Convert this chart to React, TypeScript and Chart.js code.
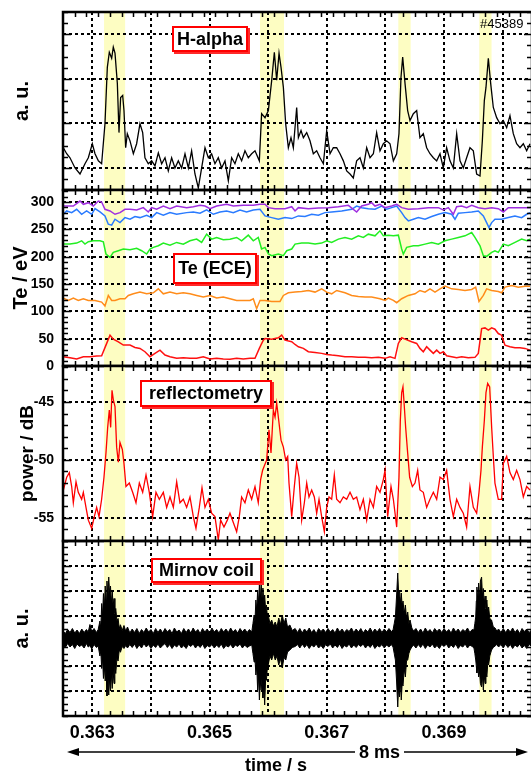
import { useEffect, useRef } from 'react';
import { Chart, registerables } from 'chart.js';

Chart.register(...registerables);

const FONT = "'Liberation Sans', Arial, Helvetica, sans-serif";

// ---------- time axis (ms) ----------
const T_MIN_MS = 362.5;
const T_MAX_MS = 370.5;
const T_GRID_MS = [363, 364, 365, 366, 367, 368, 369, 370];
const T_LABEL_MS = [363, 365, 367, 369];
const ELM_START_MS = [363.2, 365.86, 368.22, 369.6];
const ELM_END_MS = [363.56, 366.27, 368.43, 369.81];

// ---------- H-alpha [t ms, a.u.] ----------
const HALPHA: number[][] = [
  [362.506,1.90],[362.563,1.63],[362.619,1.45],[362.705,0.99],[362.790,0.72],[362.875,1.18],[362.932,1.45],[363.000,2.08],[363.046,1.63],[363.103,1.31],[363.159,1.18],[363.216,2.98],[363.256,5.51],[363.290,6.19],[363.330,5.92],[363.358,6.42],[363.387,6.15],[363.427,4.79],[363.455,2.58],[363.483,4.16],[363.518,4.25],[363.540,3.57],[363.569,1.90],[363.597,2.53],[363.643,2.21],[363.700,1.63],[363.756,2.08],[363.813,2.98],[363.859,2.58],[363.898,1.45],[363.955,1.18],[364.012,1.31],[364.069,1.08],[364.126,1.67],[364.183,1.18],[364.240,1.45],[364.296,0.86],[364.353,1.45],[364.410,0.99],[364.467,1.31],[364.524,0.99],[364.581,1.63],[364.638,0.99],[364.694,1.76],[364.751,0.72],[364.808,0.09],[364.865,0.99],[364.922,1.90],[364.979,1.45],[365.035,1.63],[365.092,1.18],[365.149,1.45],[365.206,0.99],[365.263,1.31],[365.320,0.41],[365.377,1.45],[365.433,1.18],[365.490,1.63],[365.547,1.31],[365.604,1.76],[365.661,1.45],[365.718,1.63],[365.775,1.76],[365.849,1.31],[365.888,3.43],
  [365.946,3.25],[366.003,3.57],[366.060,4.93],[366.105,6.19],[366.145,4.93],[366.185,6.15],[366.219,5.51],[366.259,4.61],[366.298,2.98],[366.344,1.90],[366.389,2.35],[366.429,1.90],[366.486,3.71],[366.515,2.35],[366.560,2.67],[366.600,2.35],[366.657,2.58],[366.713,2.21],[366.770,1.63],[366.827,1.76],[366.884,1.45],[366.941,1.18],[366.998,2.67],[367.055,1.63],[367.111,1.90],[367.168,1.90],[367.225,1.63],[367.282,1.31],[367.339,0.86],[367.396,0.72],[367.452,0.54],[367.509,1.31],[367.566,1.45],[367.623,0.99],[367.680,1.90],[367.737,1.45],[367.794,1.63],[367.850,2.58],[367.907,1.76],[367.964,2.08],[368.021,2.21],[368.078,2.08],[368.135,1.31],[368.192,1.63],[368.231,2.53],[368.265,5.06],[368.294,5.97],[368.334,4.79],[368.379,3.57],[368.419,3.12],[368.476,3.43],[368.533,3.57],[368.589,2.35],[368.646,2.53],[368.703,1.90],[368.760,1.63],[368.817,1.45],[368.874,1.31],[368.931,1.63],[368.987,0.99],[369.044,1.90],[369.101,1.31],[369.158,0.99],[369.215,2.53],[369.272,1.31],[369.328,0.99],[369.385,1.45],[369.442,1.90],[369.499,1.76],[369.556,0.72],[369.613,0.63],[369.653,2.21],[369.687,4.02],[369.715,4.61],[369.755,5.92],[369.795,4.79],[369.840,3.71],[369.897,3.25],[369.954,2.98],[370.011,3.12],[370.068,2.80],[370.124,3.34],[370.181,2.53],[370.238,2.08],[370.295,1.90],[370.352,2.08],[370.409,1.76],[370.466,2.08],
];

// ---------- Te (ECE) channels [t ms, eV] ----------
const TE_PURPLE: number[][] = [
  [362.506,292.7],[362.676,292.7],[362.790,301.8],[362.847,295.8],[362.932,298.8],[363.017,292.7],[363.103,301.8],[363.159,300.0],[363.216,286.7],[363.302,283.7],[363.387,277.6],[363.472,280.6],[363.557,286.7],[363.643,286.7],[363.756,285.5],[363.870,289.7],[363.955,281.8],[364.012,289.7],[364.097,286.7],[364.211,292.7],[364.325,287.9],[364.439,292.7],[364.609,289.7],[364.723,291.5],[364.837,294.0],[364.922,292.7],[365.007,287.9],[365.121,292.7],[365.291,295.8],[365.405,292.7],[365.576,294.0],[365.746,294.0],[365.860,295.8],
  [365.946,295.8],[366.003,289.7],[366.117,287.9],[366.287,287.9],[366.401,291.5],[366.458,283.7],[366.515,289.7],[366.685,287.9],[366.856,289.1],[367.026,289.7],[367.197,291.5],[367.367,294.0],[367.509,281.8],[367.595,292.7],[367.708,295.8],[367.765,298.8],[367.822,292.7],[367.907,295.8],[367.993,289.7],[368.106,292.7],[368.192,295.8],[368.277,289.7],[368.391,286.7],[368.561,287.9],[368.732,289.7],[368.902,289.7],[368.987,285.5],[369.073,289.7],[369.158,277.6],[369.215,291.5],[369.300,292.7],[369.385,289.7],[369.471,294.0],[369.584,289.7],[369.698,287.9],[369.812,289.7],[369.925,287.9],[370.011,281.8],[370.096,289.7],[370.266,289.7],[370.466,289.7],
];
const TE_BLUE: number[][] = [
  [362.506,277.6],[362.563,283.7],[362.648,280.6],[362.733,286.7],[362.818,277.6],[362.903,283.7],[362.989,277.6],[363.046,287.9],[363.131,281.8],[363.216,274.6],[363.273,259.4],[363.330,257.6],[363.387,268.5],[363.472,262.4],[363.557,271.5],[363.643,268.5],[363.728,273.4],[363.813,271.5],[363.927,275.8],[364.012,271.5],[364.097,280.6],[364.211,275.8],[364.325,280.6],[364.439,277.6],[364.609,280.6],[364.723,281.8],[364.837,279.4],[364.950,285.5],[365.064,277.6],[365.178,281.8],[365.291,283.7],[365.405,280.6],[365.519,285.5],[365.632,281.8],[365.746,285.5],[365.860,286.7],
  [365.946,274.6],[366.060,271.5],[366.173,268.5],[366.287,271.5],[366.401,269.7],[366.515,274.6],[366.628,273.4],[366.742,277.6],[366.856,275.8],[366.969,280.6],[367.083,281.8],[367.254,283.7],[367.424,286.7],[367.509,292.7],[367.595,289.7],[367.708,287.9],[367.822,286.7],[367.936,292.7],[368.021,286.7],[368.106,289.7],[368.192,292.7],[368.277,280.6],[368.334,271.5],[368.391,265.5],[368.476,268.5],[368.561,271.5],[368.675,268.5],[368.789,273.4],[368.902,277.6],[369.016,280.6],[369.130,277.6],[369.186,268.5],[369.243,279.4],[369.357,280.6],[369.471,281.8],[369.584,283.7],[369.670,274.6],[369.726,262.4],[369.766,253.3],[369.812,262.4],[369.868,268.5],[369.982,268.5],[370.096,271.5],[370.210,274.6],[370.323,271.5],[370.409,277.6],[370.466,280.6],
];
const TE_GREEN: number[][] = [
  [362.506,223.0],[362.619,223.0],[362.733,224.9],[362.818,229.1],[362.875,223.0],[362.932,227.3],[363.017,229.1],[363.131,229.1],[363.188,227.3],[363.233,204.9],[363.302,198.8],[363.358,207.9],[363.444,210.9],[363.529,214.0],[363.643,212.8],[363.756,215.2],[363.842,210.9],[363.927,204.9],[363.984,214.0],[364.041,217.0],[364.126,220.0],[364.211,224.9],[364.325,221.2],[364.439,226.1],[364.552,223.0],[364.666,229.1],[364.780,232.1],[364.865,226.1],[364.950,241.2],[365.035,232.1],[365.121,235.2],[365.234,230.9],[365.348,232.1],[365.462,235.2],[365.547,229.1],[365.661,239.4],[365.746,229.1],[365.831,235.2],[365.888,214.0],
  [365.946,217.0],[366.003,204.9],[366.060,201.8],[366.173,204.9],[366.259,201.8],[366.316,210.9],[366.401,214.0],[366.458,223.0],[366.571,224.9],[366.685,224.9],[366.799,223.0],[366.912,224.9],[366.998,229.1],[367.083,226.1],[367.197,232.1],[367.310,235.2],[367.424,232.1],[367.538,238.2],[367.623,235.2],[367.708,241.2],[367.822,238.2],[367.907,247.3],[367.964,238.2],[368.049,239.4],[368.135,238.2],[368.220,239.4],[368.277,214.0],[368.305,204.9],[368.362,217.0],[368.476,220.0],[368.561,220.0],[368.675,223.0],[368.789,226.1],[368.902,223.0],[369.016,229.1],[369.130,232.1],[369.243,235.2],[369.357,238.2],[369.471,244.3],[369.527,235.2],[369.613,220.0],[369.670,201.8],[369.726,200.6],[369.812,207.9],[369.868,210.9],[369.925,207.9],[370.011,223.0],[370.096,220.0],[370.210,226.1],[370.323,232.1],[370.409,229.1],[370.466,232.1],
];
const TE_ORANGE: number[][] = [
  [362.506,124.3],[362.591,120.0],[362.676,124.3],[362.761,120.0],[362.847,123.1],[362.932,120.0],[363.046,120.0],[363.159,117.0],[363.216,109.7],[363.273,129.1],[363.330,120.0],[363.387,120.0],[363.472,123.1],[363.557,123.1],[363.614,129.1],[363.700,132.1],[363.813,135.2],[363.927,132.1],[364.041,133.9],[364.126,141.2],[364.211,132.1],[364.325,135.2],[364.439,132.1],[364.552,133.9],[364.666,132.1],[364.780,129.1],[364.893,126.1],[365.007,129.1],[365.121,124.3],[365.234,126.1],[365.348,123.1],[365.462,120.0],[365.576,120.0],[365.689,120.0],[365.746,123.1],[365.803,104.9],[365.860,120.0],
  [365.946,120.0],[366.060,118.2],[366.202,118.2],[366.259,129.1],[366.344,133.9],[366.458,135.2],[366.571,136.4],[366.685,138.2],[366.799,135.2],[366.912,141.2],[366.998,135.2],[367.083,132.1],[367.168,138.2],[367.310,133.9],[367.424,129.1],[367.538,127.3],[367.652,126.1],[367.765,126.1],[367.907,123.1],[367.993,120.0],[368.049,124.3],[368.135,120.0],[368.192,115.8],[368.277,123.1],[368.391,129.1],[368.504,132.1],[368.589,138.2],[368.675,135.2],[368.760,141.2],[368.845,135.2],[368.931,141.2],[369.016,146.1],[369.130,141.2],[369.243,140.0],[369.357,138.2],[369.471,140.0],[369.539,144.3],[369.596,118.2],[369.670,129.1],[369.726,141.2],[369.812,138.2],[369.925,136.4],[369.982,133.9],[370.039,144.3],[370.153,147.3],[370.266,144.3],[370.380,146.1],[370.466,146.1],
];
const TE_RED: number[][] = [
  [362.506,17.0],[362.619,15.2],[362.733,12.8],[362.847,17.0],[362.960,17.0],[363.074,18.2],[363.159,18.8],[363.233,38.2],[363.302,56.4],[363.358,49.1],[363.444,44.3],[363.529,38.2],[363.643,38.2],[363.728,34.0],[363.813,32.2],[363.898,26.1],[363.984,17.0],[364.069,23.1],[364.154,29.1],[364.240,20.0],[364.325,17.0],[364.439,14.0],[364.552,15.2],[364.666,14.0],[364.780,14.0],[364.893,17.0],[365.007,12.8],[365.121,14.0],[365.234,12.8],[365.348,12.2],[365.462,14.0],[365.576,12.8],[365.689,14.0],[365.775,14.0],[365.849,32.2],[365.917,47.3],
  [365.946,50.3],[366.060,49.1],[366.173,51.6],[366.230,56.4],[366.287,47.3],[366.401,44.3],[366.458,39.4],[366.515,35.2],[366.600,32.2],[366.685,26.1],[366.799,24.9],[366.912,23.1],[366.998,21.2],[367.083,20.0],[367.197,18.8],[367.310,17.0],[367.424,17.0],[367.538,15.8],[367.652,15.8],[367.765,15.2],[367.879,15.8],[367.993,14.0],[368.078,17.0],[368.163,14.0],[368.220,41.3],[368.277,51.6],[368.334,49.1],[368.447,44.3],[368.533,41.3],[368.589,32.2],[368.646,26.1],[368.703,35.2],[368.760,29.1],[368.817,23.1],[368.874,29.1],[368.931,23.1],[368.987,26.1],[369.044,18.8],[369.130,17.0],[369.215,15.2],[369.300,17.0],[369.414,15.2],[369.527,15.8],[369.584,23.1],[369.641,68.5],[369.698,69.7],[369.755,65.5],[369.812,69.7],[369.868,67.3],[369.925,59.4],[369.982,56.4],[370.039,38.2],[370.124,35.2],[370.210,33.4],[370.295,33.4],[370.380,32.2],[370.466,29.1],
];

// ---------- reflectometry [t ms, dB] ----------
const REFL: number[][] = [
  [362.506,-52.6],[362.563,-51.5],[362.608,-51.1],[362.648,-52.3],[362.676,-53.7],[362.722,-51.9],[362.761,-52.8],[362.818,-53.4],[362.847,-52.8],[362.892,-54.1],[362.932,-55.2],[362.989,-55.9],[363.034,-54.9],[363.074,-54.1],[363.114,-54.9],[363.159,-53.4],[363.199,-51.5],[363.233,-49.4],[363.262,-47.2],[363.290,-45.7],[363.313,-47.2],[363.336,-44.0],[363.358,-44.8],[363.387,-45.4],[363.415,-48.9],[363.444,-50.2],[363.472,-48.5],[363.512,-49.1],[363.540,-50.3],[363.574,-52.3],[363.631,-52.0],[363.688,-52.8],[363.745,-53.7],[363.802,-52.0],[363.859,-52.8],[363.916,-51.3],[363.972,-52.8],[364.029,-54.9],[364.086,-52.8],[364.143,-53.4],[364.211,-52.8],[364.268,-54.1],[364.325,-53.2],[364.382,-54.1],[364.439,-51.9],[364.495,-53.7],[364.552,-53.4],[364.609,-54.1],[364.666,-53.2],[364.723,-54.9],[364.768,-55.9],[364.825,-54.1],[364.871,-52.4],[364.922,-54.1],[364.979,-53.4],[365.035,-54.6],[365.092,-54.9],[365.149,-56.9],[365.189,-55.2],[365.246,-55.8],[365.303,-55.2],[365.348,-54.6],[365.405,-55.4],[365.462,-56.2],[365.507,-54.9],[365.547,-53.2],[365.604,-53.7],[365.661,-52.6],[365.718,-53.4],[365.775,-52.3],[365.831,-53.7],[365.871,-51.7],[365.905,-50.9],
  [365.974,-50.0],[366.014,-47.4],[366.048,-49.4],[366.088,-45.7],[366.117,-46.3],[366.145,-45.1],[366.173,-46.3],[366.219,-48.3],[366.259,-48.9],[366.298,-50.0],[366.333,-49.7],[366.355,-52.0],[366.401,-54.9],[366.446,-52.3],[366.486,-50.3],[366.526,-51.5],[366.571,-55.2],[366.617,-53.7],[366.657,-52.0],[366.696,-53.2],[366.742,-52.6],[366.787,-53.2],[366.827,-54.6],[366.867,-53.4],[366.912,-54.9],[366.958,-56.2],[366.998,-54.1],[367.038,-53.2],[367.083,-53.4],[367.128,-51.3],[367.168,-53.4],[367.225,-53.7],[367.282,-53.2],[367.339,-53.4],[367.396,-52.8],[367.452,-53.4],[367.509,-53.2],[367.566,-54.3],[367.623,-53.4],[367.680,-55.2],[367.737,-53.4],[367.794,-54.1],[367.850,-52.3],[367.907,-52.8],[367.964,-51.7],[367.993,-50.9],[368.038,-54.9],[368.095,-52.3],[368.135,-53.4],[368.192,-55.8],[368.231,-51.5],[368.254,-46.6],[368.277,-44.2],[368.299,-43.7],[368.322,-45.4],[368.345,-47.2],[368.379,-49.4],[368.413,-51.5],[368.459,-52.3],[368.504,-52.0],[368.550,-50.9],[368.589,-52.6],[368.646,-52.8],[368.703,-54.1],[368.760,-53.4],[368.817,-52.8],[368.874,-53.4],[368.931,-51.5],[368.987,-51.7],[369.044,-50.9],[369.101,-53.4],[369.158,-54.9],[369.215,-53.4],[369.272,-54.1],[369.328,-54.6],[369.385,-55.8],[369.442,-52.3],[369.499,-54.1],[369.556,-54.6],[369.596,-52.8],[369.630,-50.9],[369.653,-48.9],[369.687,-46.6],[369.715,-44.2],[369.744,-43.4],[369.778,-43.7],[369.812,-47.2],[369.840,-49.7],[369.868,-52.0],[369.925,-53.4],[369.982,-53.4],[370.011,-50.3],[370.068,-49.7],[370.124,-51.1],[370.181,-51.7],[370.238,-50.9],[370.295,-51.7],[370.352,-53.2],[370.409,-52.3],[370.466,-52.6],
];

// ---------- Mirnov coil envelope [t ms, upper a.u., lower a.u.] ----------
const MIRNOV: number[][] = [
  [362.50,0.40,-0.16],[362.54,0.30,-0.26],[362.58,0.46,-0.10],[362.62,0.34,-0.24],[362.66,0.50,-0.14],[362.70,0.32,-0.30],[362.74,0.44,-0.12],[362.78,0.30,-0.22],[362.82,0.48,-0.16],[362.86,0.34,-0.28],[362.90,0.46,-0.10],[362.93,0.36,-0.24],[362.96,0.66,-0.18],[362.99,0.38,-0.32],[363.03,0.50,-0.14],[363.07,0.34,-0.26],[363.10,0.46,-0.20],
  [363.13,0.80,-0.60],[363.145,0.50,-0.40],[363.16,1.50,-1.10],[363.175,1.00,-0.70],[363.19,1.90,-1.50],[363.205,1.30,-1.00],[363.22,2.20,-1.60],[363.235,1.60,-1.10],[363.25,2.40,-2.20],[363.265,1.70,-1.40],[363.28,2.56,-2.16],[363.295,1.90,-1.50],[363.31,2.20,-2.00],[363.325,1.50,-1.30],[363.34,2.00,-1.90],[363.355,1.40,-1.20],[363.37,1.70,-1.70],[363.385,1.10,-1.00],[363.40,1.30,-1.30],[363.42,0.80,-0.70],[363.44,0.90,-0.80],[363.46,0.50,-0.35],[363.48,0.65,-0.45],[363.51,0.42,-0.22],[363.54,0.62,-0.30],[363.57,0.40,-0.18],[363.60,0.56,-0.28],
  [363.64,0.32,-0.14],[363.68,0.48,-0.26],[363.72,0.34,-0.12],[363.76,0.50,-0.30],[363.80,0.30,-0.16],[363.84,0.46,-0.28],[363.88,0.34,-0.10],[363.92,0.52,-0.24],[363.96,0.36,-0.14],[364.00,0.46,-0.30],[364.04,0.30,-0.16],[364.08,0.50,-0.26],[364.12,0.34,-0.12],[364.16,0.48,-0.28],[364.20,0.32,-0.18],[364.24,0.50,-0.10],[364.28,0.36,-0.26],[364.32,0.46,-0.14],[364.36,0.30,-0.30],[364.40,0.52,-0.16],[364.44,0.36,-0.24],[364.48,0.44,-0.12],[364.52,0.30,-0.28],[364.56,0.50,-0.18],[364.60,0.34,-0.30],[364.64,0.48,-0.14],[364.68,0.32,-0.22],[364.72,0.52,-0.12],[364.76,0.36,-0.28],[364.80,0.46,-0.16],[364.84,0.30,-0.26],[364.88,0.50,-0.12],[364.92,0.36,-0.30],[364.96,0.48,-0.18],[365.00,0.32,-0.24],[365.04,0.52,-0.14],[365.08,0.36,-0.28],[365.12,0.46,-0.16],[365.16,0.32,-0.26],[365.20,0.50,-0.12],[365.24,0.36,-0.30],[365.28,0.48,-0.18],[365.32,0.34,-0.24],[365.36,0.52,-0.14],[365.40,0.36,-0.28],[365.44,0.46,-0.16],[365.48,0.32,-0.22],[365.52,0.50,-0.12],[365.56,0.36,-0.28],[365.60,0.48,-0.16],[365.64,0.34,-0.26],[365.68,0.46,-0.20],
  [365.72,0.36,-0.16],[365.74,0.70,-0.50],[365.76,1.04,-0.84],[365.775,0.80,-0.70],[365.79,1.64,-1.36],[365.805,1.20,-1.00],[365.82,2.04,-1.96],[365.835,1.50,-1.40],[365.85,2.24,-2.36],[365.865,1.60,-1.60],[365.88,2.32,-1.96],[365.895,1.70,-1.50],[365.91,2.12,-2.28],[365.925,1.50,-1.70],[365.94,1.84,-2.56],[365.955,1.30,-1.60],[365.97,1.44,-1.56],[365.985,1.00,-1.10],[366.00,1.04,-0.96],[366.03,0.70,-0.60],[366.06,0.84,-0.76],[366.09,0.60,-0.50],[366.12,0.76,-0.76],[366.15,0.56,-0.60],[366.18,0.92,-0.96],[366.21,0.66,-0.70],[366.24,1.04,-1.08],[366.27,0.70,-0.66],[366.30,0.92,-0.76],[366.33,0.56,-0.44],[366.37,0.64,-0.36],[366.41,0.42,-0.26],[366.46,0.50,-0.22],
  [366.50,0.34,-0.14],[366.54,0.50,-0.28],[366.58,0.32,-0.12],[366.62,0.48,-0.26],[366.66,0.36,-0.14],[366.70,0.52,-0.30],[366.74,0.34,-0.16],[366.78,0.46,-0.24],[366.82,0.30,-0.12],[366.86,0.50,-0.28],[366.90,0.38,-0.18],[366.94,0.48,-0.30],[366.98,0.34,-0.14],[367.02,0.50,-0.22],[367.06,0.36,-0.12],[367.10,0.46,-0.28],[367.14,0.32,-0.16],[367.18,0.52,-0.26],[367.22,0.36,-0.12],[367.26,0.48,-0.30],[367.30,0.34,-0.18],[367.34,0.46,-0.24],[367.38,0.38,-0.12],[367.42,0.52,-0.28],[367.46,0.34,-0.16],[367.50,0.48,-0.26],[367.54,0.36,-0.14],[367.58,0.50,-0.22],[367.62,0.32,-0.12],[367.66,0.46,-0.28],[367.70,0.36,-0.16],[367.74,0.52,-0.26],[367.78,0.34,-0.12],[367.82,0.48,-0.30],[367.86,0.36,-0.18],[367.90,0.50,-0.24],[367.94,0.34,-0.14],[367.98,0.48,-0.28],[368.02,0.36,-0.16],[368.06,0.50,-0.24],[368.10,0.38,-0.14],
  [368.13,0.44,-0.24],[368.15,0.70,-0.50],[368.17,0.96,-0.76],[368.19,1.80,-1.60],[368.21,2.72,-2.64],[368.225,1.90,-1.80],[368.24,2.04,-2.24],[368.255,1.50,-1.60],[368.27,1.92,-2.36],[368.285,1.40,-1.70],[368.30,1.60,-1.80],[368.32,1.10,-1.10],[368.34,1.44,-1.44],[368.36,0.90,-0.80],[368.38,1.16,-0.76],[368.40,0.70,-0.50],[368.42,0.84,-0.36],[368.45,0.52,-0.24],[368.48,0.40,-0.16],
  [368.52,0.50,-0.28],[368.56,0.34,-0.14],[368.60,0.48,-0.26],[368.64,0.32,-0.12],[368.68,0.52,-0.30],[368.72,0.36,-0.16],[368.76,0.46,-0.24],[368.80,0.32,-0.12],[368.84,0.50,-0.28],[368.88,0.38,-0.18],[368.92,0.48,-0.30],[368.96,0.34,-0.14],[369.00,0.50,-0.22],[369.04,0.36,-0.12],[369.08,0.46,-0.28],[369.12,0.32,-0.16],[369.16,0.52,-0.26],[369.20,0.36,-0.12],[369.24,0.48,-0.30],[369.28,0.34,-0.18],[369.32,0.46,-0.24],[369.36,0.38,-0.12],[369.40,0.52,-0.28],[369.44,0.34,-0.16],[369.48,0.46,-0.22],
  [369.51,0.44,-0.28],[369.525,0.70,-0.50],[369.54,0.96,-0.76],[369.55,1.60,-1.00],[369.56,2.16,-1.28],[369.575,1.60,-1.00],[369.59,2.32,-1.44],[369.605,1.70,-1.20],[369.62,2.40,-1.70],[369.64,2.56,-1.84],[369.655,1.80,-1.40],[369.67,2.10,-1.96],[369.685,1.50,-1.40],[369.70,1.80,-1.70],[369.715,1.30,-1.20],[369.73,1.64,-1.44],[369.745,1.10,-0.90],[369.76,1.36,-0.96],[369.78,0.90,-0.60],[369.81,0.84,-0.36],[369.84,0.56,-0.26],[369.87,0.52,-0.20],[369.90,0.40,-0.14],[369.93,0.48,-0.24],
  [369.97,0.34,-0.14],[370.01,0.50,-0.28],[370.05,0.34,-0.12],[370.09,0.48,-0.26],[370.13,0.36,-0.14],[370.17,0.52,-0.30],[370.21,0.34,-0.16],[370.25,0.46,-0.24],[370.29,0.30,-0.12],[370.33,0.50,-0.28],[370.37,0.38,-0.18],[370.41,0.48,-0.30],[370.45,0.34,-0.14],[370.50,0.46,-0.22],
];

// ---------- layout / style constants ----------
const PAGE_W = 531;
const PAGE_H = 776;
const CANVAS_W = 533;
const AXIS_W = 63;
const X_AXIS_H = 60;
const ARROW_Y = 752;
const BAND_COLOR = '#fdfdc2';

const toXY = (rows: number[][], col = 1) => rows.map((r) => ({ x: r[0] / 1000, y: r[col] }));

type Panel = {
  key: string;
  top: number;
  bottom: number;
  yMin: number;
  yMax: number;
  yGrid: number[];
  yMinor: number;
  showYLabels: boolean;
  title: string;
  titleSize: number;
  titlePad: number;
  isBottom: boolean;
  datasets: any[];
};

const line = (data: any[], color: string, width: number, extra: any = {}) => ({
  data,
  borderColor: color,
  borderWidth: width,
  pointRadius: 0,
  tension: 0,
  fill: false,
  ...extra,
});

const PANELS: Panel[] = [
  {
    key: 'ha', top: 12, bottom: 190, yMin: 0, yMax: 8, yGrid: [1, 3, 5, 7], yMinor: 0.5,
    showYLabels: false, title: 'a. u.', titleSize: 20, titlePad: 12, isBottom: false,
    datasets: [line(toXY(HALPHA), '#000000', 1.3)],
  },
  {
    key: 'te', top: 190, bottom: 366, yMin: 0, yMax: 322, yGrid: [0, 50, 100, 150, 200, 250, 300], yMinor: 10,
    showYLabels: true, title: 'Te / eV', titleSize: 20, titlePad: 11, isBottom: false,
    datasets: [
      line(toXY(TE_PURPLE), '#a030e0', 1.5),
      line(toXY(TE_BLUE), '#2a7bff', 1.5),
      line(toXY(TE_GREEN), '#22ee22', 1.5),
      line(toXY(TE_ORANGE), '#ff8c1a', 1.5),
      line(toXY(TE_RED), '#ff1010', 1.5),
    ],
  },
  {
    key: 'refl', top: 366, bottom: 541, yMin: -57, yMax: -41.9, yGrid: [-55, -50, -45], yMinor: 1,
    showYLabels: true, title: 'power / dB', titleSize: 19, titlePad: 18, isBottom: false,
    datasets: [line(toXY(REFL), '#ff0000', 1.3)],
  },
  {
    key: 'mirnov', top: 541, bottom: 716, yMin: -3, yMax: 4, yGrid: [-2, -1, 0, 1, 2, 3], yMinor: 0.25,
    showYLabels: false, title: 'a. u.', titleSize: 20, titlePad: 12, isBottom: true,
    datasets: [
      line(toXY(MIRNOV, 1), '#000000', 1),
      line(toXY(MIRNOV, 2), '#000000', 1, { fill: '-1', backgroundColor: '#000000' }),
    ],
  },
];

const bandsPlugin = {
  id: 'elmBands',
  beforeDraw(chart: any) {
    const { ctx, chartArea: a, scales } = chart;
    const x = scales.x;
    ctx.save();
    ctx.fillStyle = BAND_COLOR;
    ELM_START_MS.forEach((s, i) => {
      const x0 = x.getPixelForValue(s / 1000);
      const x1 = x.getPixelForValue(ELM_END_MS[i] / 1000);
      ctx.fillRect(x0, a.top, x1 - x0, a.bottom - a.top);
    });
    ctx.restore();
  },
};

const makeFramePlugin = (p: Panel) => ({
  id: 'frame_' + p.key,
  afterDraw(chart: any) {
    const { ctx, chartArea: a, scales } = chart;
    const x = scales.x;
    const y = scales.y;
    ctx.save();
    ctx.strokeStyle = '#000';
    ctx.lineWidth = 1.5;
    ctx.beginPath();
    const nX = Math.round((T_MAX_MS - T_MIN_MS) / 0.2);
    for (let k = 1; k < nX; k++) {
      const px = Math.round(x.getPixelForValue((T_MIN_MS + k * 0.2) / 1000)) + 0.5;
      ctx.moveTo(px, a.top);
      ctx.lineTo(px, a.top + 5);
      ctx.moveTo(px, a.bottom);
      ctx.lineTo(px, a.bottom - 5);
    }
    const start = Math.ceil(p.yMin / p.yMinor - 1e-9);
    for (let k = start; k * p.yMinor <= p.yMax + 1e-9; k++) {
      const v = k * p.yMinor;
      const major = p.yGrid.some((g) => Math.abs(g - v) < 1e-9);
      const len = major ? 8 : 5;
      const py = Math.round(y.getPixelForValue(v)) + 0.5;
      ctx.moveTo(a.left, py);
      ctx.lineTo(a.left + len, py);
      ctx.moveTo(a.right, py);
      ctx.lineTo(a.right - len, py);
    }
    ctx.stroke();
    ctx.lineWidth = 2.5;
    ctx.strokeRect(a.left, a.top, a.right - a.left, a.bottom - a.top);
    ctx.restore();
  },
});

const arrowPlugin = {
  id: 'spanArrow',
  afterDraw(chart: any) {
    const { ctx, scales } = chart;
    const x = scales.x;
    const x0 = x.getPixelForValue(T_MIN_MS / 1000) + 4;
    const x1 = x.getPixelForValue(T_MAX_MS / 1000) - 4;
    const yy = ARROW_Y;
    ctx.save();
    ctx.strokeStyle = '#000';
    ctx.fillStyle = '#000';
    ctx.lineWidth = 1.5;
    ctx.beginPath();
    ctx.moveTo(x0 + 6, yy);
    ctx.lineTo(x1 - 6, yy);
    ctx.stroke();
    ctx.beginPath();
    ctx.moveTo(x0, yy);
    ctx.lineTo(x0 + 12, yy - 4);
    ctx.lineTo(x0 + 12, yy + 4);
    ctx.closePath();
    ctx.fill();
    ctx.beginPath();
    ctx.moveTo(x1, yy);
    ctx.lineTo(x1 - 12, yy - 4);
    ctx.lineTo(x1 - 12, yy + 4);
    ctx.closePath();
    ctx.fill();
    ctx.restore();
  },
};

function buildConfig(p: Panel): any {
  const plugins: any[] = [bandsPlugin, makeFramePlugin(p)];
  if (p.isBottom) plugins.push(arrowPlugin);
  const gridStyle = { color: '#000', lineWidth: 2, drawTicks: false };
  return {
    type: 'line',
    data: { datasets: p.datasets },
    plugins,
    options: {
      responsive: false,
      maintainAspectRatio: false,
      animation: false,
      events: [],
      layout: {
        padding: {
          left: 0,
          right: CANVAS_W - 532,
          top: p.top,
          bottom: PAGE_H - p.bottom - (p.isBottom ? X_AXIS_H : 0),
        },
      },
      plugins: { legend: { display: false }, tooltip: { enabled: false } },
      scales: {
        x: {
          type: 'linear',
          min: T_MIN_MS / 1000,
          max: T_MAX_MS / 1000,
          afterBuildTicks: (s: any) => {
            s.ticks = T_GRID_MS.map((v) => ({ value: v / 1000 }));
          },
          afterFit: (s: any) => {
            s.height = p.isBottom ? X_AXIS_H : 0;
            s.paddingLeft = 0;
            s.paddingRight = 0;
          },
          grid: gridStyle,
          border: { display: false, dash: [3, 3] },
          ticks: {
            display: p.isBottom,
            autoSkip: false,
            maxRotation: 0,
            minRotation: 0,
            padding: 6,
            color: '#000',
            font: { family: FONT, size: 18, weight: 'bold', lineHeight: 1.2 },
            callback: (v: any) => {
              const ms = Number(v) * 1000;
              return T_LABEL_MS.some((m) => Math.abs(m - ms) < 1e-6) ? Number(v).toFixed(3) : '';
            },
          },
        },
        y: {
          type: 'linear',
          min: p.yMin,
          max: p.yMax,
          afterBuildTicks: (s: any) => {
            s.ticks = p.yGrid.map((v) => ({ value: v }));
          },
          afterFit: (s: any) => {
            s.width = AXIS_W;
            s.paddingTop = 0;
            s.paddingBottom = 0;
          },
          grid: gridStyle,
          border: { display: false, dash: [3, 3] },
          ticks: {
            display: p.showYLabels,
            padding: 9,
            color: '#000',
            font: { family: FONT, size: 14, weight: 'bold' },
            callback: (v: any) => String(v),
          },
          title: {
            display: true,
            text: p.title,
            color: '#000',
            font: { family: FONT, size: p.titleSize, weight: 'bold', lineHeight: 1 },
            padding: { top: p.titlePad, bottom: 0 },
          },
        },
      },
    },
  };
}

function PanelChart({ panel }: { panel: Panel }) {
  const ref = useRef<HTMLCanvasElement>(null);
  useEffect(() => {
    const chart = new Chart(ref.current as HTMLCanvasElement, buildConfig(panel));
    return () => chart.destroy();
  }, [panel]);
  return (
    <canvas
      ref={ref}
      width={CANVAS_W}
      height={PAGE_H}
      style={{ position: 'absolute', left: 0, top: 0, width: CANVAS_W, height: PAGE_H }}
    />
  );
}

const LABEL_BOXES = [
  { text: 'H-alpha', left: 172, top: 26, width: 76, height: 26 },
  { text: 'Te (ECE)', left: 173, top: 253, width: 84, height: 31 },
  { text: 'reflectometry', left: 140, top: 380, width: 132, height: 27 },
  { text: 'Mirnov coil', left: 151, top: 558, width: 111, height: 25 },
];

export default function App() {
  return (
    <div
      style={{
        position: 'absolute',
        left: 0,
        top: 0,
        width: PAGE_W,
        height: PAGE_H,
        overflow: 'hidden',
        background: '#fff',
        fontFamily: FONT,
      }}
    >
      {PANELS.map((p) => (
        <PanelChart key={p.key} panel={p} />
      ))}
      {LABEL_BOXES.map((b) => (
        <div
          key={b.text}
          style={{
            position: 'absolute',
            left: b.left,
            top: b.top,
            width: b.width,
            height: b.height,
            boxSizing: 'border-box',
            border: '2px solid #ff0000',
            boxShadow: '2px 2px 0 0 #ff2a2a',
            background: '#fff',
            display: 'flex',
            alignItems: 'center',
            justifyContent: 'center',
            fontWeight: 'bold',
            fontSize: 18,
            color: '#000',
            whiteSpace: 'nowrap',
          }}
        >
          {b.text}
        </div>
      ))}
      <div style={{ position: 'absolute', left: 480, top: 17, fontSize: 13, lineHeight: '13px', color: '#000' }}>
        #45389
      </div>
      <div
        style={{
          position: 'absolute',
          left: 355,
          top: 743,
          padding: '0 4px',
          background: '#fff',
          fontWeight: 'bold',
          fontSize: 18,
          lineHeight: '18px',
          color: '#000',
        }}
      >
        8 ms
      </div>
      <div
        style={{
          position: 'absolute',
          left: 245,
          top: 756,
          fontWeight: 'bold',
          fontSize: 18,
          lineHeight: '18px',
          color: '#000',
          whiteSpace: 'nowrap',
        }}
      >
        time / s
      </div>
    </div>
  );
}
